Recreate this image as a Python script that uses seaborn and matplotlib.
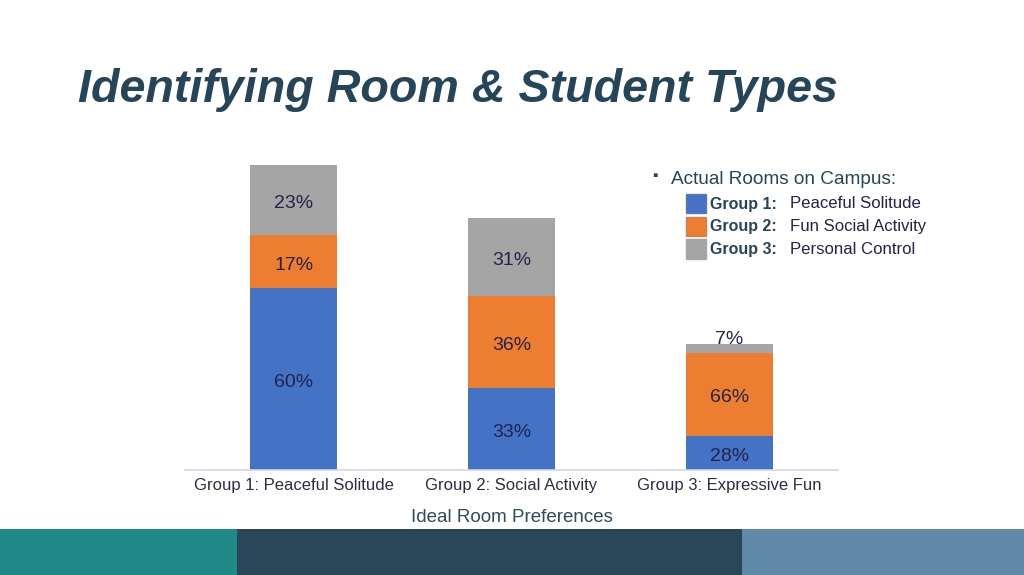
import matplotlib
matplotlib.use("Agg")
import matplotlib.pyplot as plt
import seaborn as sns
import pandas as pd
import numpy as np
from matplotlib.patches import Rectangle

sns.set_theme(style="white")
plt.rcParams['font.family'] = ['Liberation Sans', 'DejaVu Sans']

categories = ["Group 1: Peaceful Solitude", "Group 2: Social Activity", "Group 3: Expressive Fun"]
series = ["Group 1", "Group 2", "Group 3"]
series_desc = ["Peaceful Solitude", "Fun Social Activity", "Personal Control"]
# segment heights (relative units)
g1_vals = [18.2, 8.2, 3.4]
g2_vals = [5.3, 9.2, 8.3]
g3_vals = [7.0, 7.8, 0.9]
# percentage labels shown on the segments
g1_labels = ["60%", "33%", "28%"]
g2_labels = ["17%", "36%", "66%"]
g3_labels = ["23%", "31%", "7%"]

colors = ["#4472c4", "#ed7d31", "#a5a5a5"]
title_color = "#264559"
text_color = "#23234d"

fig = plt.figure(figsize=(10.24, 5.75), dpi=100)
ax = fig.add_axes([185/1024, 1-470/575, 653/1024, 310/575])

vals = [g1_vals, g2_vals, g3_vals]
labs = [g1_labels, g2_labels, g3_labels]
bottom = np.zeros(len(categories))
for i, (v, lab) in enumerate(zip(vals, labs)):
    df = pd.DataFrame({"cat": categories, "val": v})
    sns.barplot(data=df, x="cat", y="val", bottom=bottom, color=colors[i],
                width=0.4, ax=ax, saturation=1, linewidth=0)
    for j, (h, t) in enumerate(zip(v, lab)):
        if h < 2:
            ax.text(j, bottom[j] + h + 0.02, t, ha="center", va="baseline",
                    fontsize=14, color=text_color)
        else:
            ax.text(j, bottom[j] + h/2 - 0.35, t, ha="center", va="center",
                    fontsize=14, color=text_color)
    bottom = bottom + np.array(v)

ax.set_xlim(-0.5, 2.5)
ax.set_ylim(0, 31)
for s in ["top", "right", "left"]:
    ax.spines[s].set_visible(False)
ax.spines["bottom"].set_color("#d4d4ee")
ax.spines["bottom"].set_linewidth(1.2)
ax.set_yticks([])
ax.set_ylabel("")
ax.tick_params(axis="x", length=0, pad=6, labelsize=12, labelcolor="#2b2b4b")
ax.set_xlabel("Ideal Room Preferences", fontsize=13.5, color="#2e4a5c", labelpad=11)

# title
fig.text(78/1024, 1-102/575, "Identifying Room & Student Types", fontsize=33.6,
         fontweight="bold", fontstyle="italic", color=title_color, ha="left", va="baseline")

# legend-like text block
fig.text(652/1024, 1-176/575, "\u25aa", fontsize=11, color=title_color, ha="left", va="center")
fig.text(671/1024, 1-180/575, "Actual Rooms on Campus:", fontsize=13.7, color=title_color,
         ha="left", va="center")
for k in range(3):
    ytop = 194 + 22.7*k
    fig.patches.append(Rectangle((686/1024, 1-(ytop+19.5)/575), 20/1024, 19.5/575,
                                 transform=fig.transFigure, facecolor=colors[k],
                                 edgecolor=sns.desaturate(colors[k], 0.6), linewidth=1.0))
    yc = 1-(ytop+10)/575
    fig.text(710/1024, yc, series[k] + ":", fontsize=11.5, fontweight="bold",
             color=title_color, ha="left", va="center")
    fig.text(790/1024, yc, series_desc[k], fontsize=12.1, color=text_color,
             ha="left", va="center")

# bottom decorative bands
bands = [(0, 237, "#1f8a87"), (237, 742, "#2a4759"), (742, 1024, "#6088a8")]
for x0, x1, c in bands:
    fig.patches.append(Rectangle((x0/1024, 0), (x1-x0)/1024, 46/575,
                                 transform=fig.transFigure, facecolor=c, edgecolor="none"))

fig.savefig("out.png", dpi=100, facecolor="white")
